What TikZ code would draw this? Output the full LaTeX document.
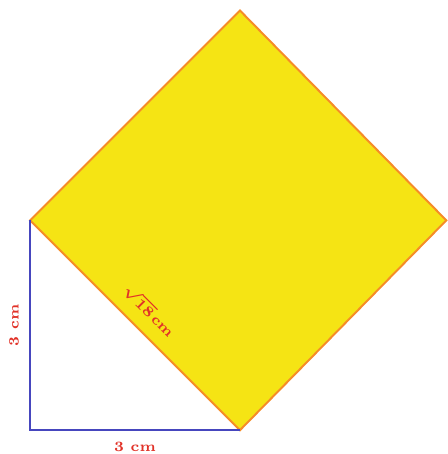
\documentclass[tikz,border=0pt]{standalone}
\usepackage{amsmath,amssymb}
\usepackage{tikz}
\usepackage{xcolor}

\definecolor{sqfill}{RGB}{245,228,20}
\definecolor{sqedge}{RGB}{245,140,40}
\definecolor{legblue}{RGB}{70,70,190}
\definecolor{lblred}{RGB}{225,50,40}

\begin{document}
\begin{tikzpicture}[lbl/.style={text=lblred,font=\fontsize{5.8}{7}\selectfont\bfseries,inner sep=1pt}]
\useasboundingbox (-0.43,-0.34) rectangle (5.97,6.15);
\coordinate (A) at (0,3);
\coordinate (B) at (0,0);
\coordinate (C) at (3,0);
\coordinate (D) at (5.95,3);
\coordinate (E) at (3,6);
\filldraw[fill=sqfill,draw=sqedge,thick] (A) -- (C) -- (D) -- (E) -- cycle;
\draw[legblue,thick] (A) -- (B) -- (C);
\node[lbl,rotate=90] (left) at (-0.23,1.5) {3 cm};
\node[lbl] (bottom) at (1.5,-0.24) {3 cm};
\node[lbl,rotate=-45] (hyp) at (1.71,1.71) {$\boldsymbol{\sqrt{18}}$\,cm};
\end{tikzpicture}
\end{document}
